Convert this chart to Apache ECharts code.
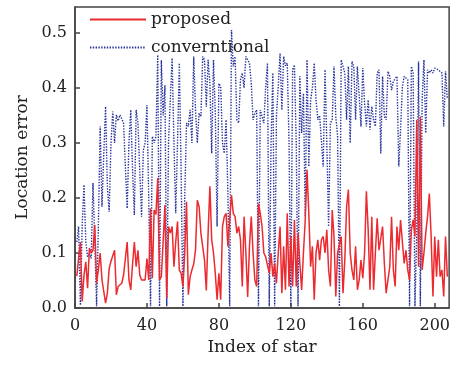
<!DOCTYPE html>
<html>
<head>
<meta charset="utf-8">
<script src="https://cdn.jsdelivr.net/npm/echarts@6/dist/echarts.min.js"></script>
<style>
  html, body { margin: 0; padding: 0; background: #fff; }
  #chart { width: 453px; height: 365px; }
</style>
</head>
<body>
<div id="chart"></div>
<script>
// location error per star
const proposed = [
  0.058, 0.09, 0.12, 0.012, 0.06, 0.084, 0.036, 0.109, 0.10, 0.105,
  0.151, 0.045, 0.07, 0.10, 0.051, 0.03, 0.009, 0.027, 0.072, 0.085,
  0.087, 0.105, 0.024, 0.039, 0.039, 0.045, 0.06, 0.057, 0.12, 0.051,
  0.033, 0.08, 0.12, 0.075, 0.105, 0.06, 0.051, 0.051, 0.051, 0.09,
  0.051, 0.181, 0.054, 0.178, 0.17, 0.236, 0.051, 0.057, 0.12, 0.187,
  0.018, 0.148, 0.136, 0.148, 0.075, 0.12, 0.157, 0.069, 0.063, 0.039,
  0.10, 0.193, 0.024, 0.057, 0.069, 0.08, 0.105, 0.196, 0.184, 0.136,
  0.136, 0.087, 0.032, 0.136, 0.221, 0.124, 0.10, 0.063, 0.015, 0.063,
  0.015, 0.148, 0.166, 0.172, 0.112, 0.16, 0.205, 0.172, 0.166, 0.136,
  0.148, 0.124, 0.039, 0.166, 0.10, 0.02, 0.112, 0.166, 0.10, 0.051,
  0.039, 0.19, 0.172, 0.148, 0.10, 0.093, 0.093, 0.063, 0.10, 0.057,
  0.081, 0.045, 0.10, 0.148, 0.027, 0.112, 0.033, 0.172, 0.039, 0.13,
  0.039, 0.16, 0.039, 0.136, 0.081, 0.033, 0.10, 0.16, 0.251, 0.172,
  0.075, 0.112, 0.015, 0.10, 0.124, 0.087, 0.124, 0.13, 0.10, 0.142,
  0.069, 0.039, 0.178, 0.13, 0.021, 0.10, 0.10, 0.13, 0.027, 0.087,
  0.184, 0.215, 0.10, 0.069, 0.051,
  0.112, 0.033, 0.051, 0.087, 0.054, 0.10, 0.212, 0.142, 0.033, 0.166,
  0.033, 0.10, 0.163, 0.105, 0.105, 0.148, 0.081, 0.027, 0.051, 0.075,
  0.166, 0.069, 0.039, 0.148, 0.105, 0.16, 0.16, 0.081, 0.105, 0.069,
  0.051, 0.142, 0.16, 0.13, 0.342, 0.075, 0.348, 0.069, 0.10, 0.136,
  0.166, 0.208, 0.13, 0.021, 0.13, 0.057, 0.124, 0.057, 0.069, 0.021, 0.13, 0.057
];
const conventional = [
  0.12, 0.148, 0.005, 0.15, 0.224, 0.12, 0.093, 0.10, 0.09, 0.227,
  0.12, 0.003, 0.15, 0.33, 0.184, 0.28, 0.366, 0.22, 0.175, 0.30,
  0.357, 0.30, 0.351, 0.34, 0.351, 0.351, 0.336, 0.257, 0.181, 0.30,
  0.36, 0.25, 0.169, 0.36, 0.336, 0.25, 0.166, 0.287, 0.30, 0.369,
  0.20, 0.003, 0.312, 0.30, 0.312, 0.46, 0.003, 0.45, 0.35, 0.405,
  0.003, 0.30, 0.38, 0.454, 0.30, 0.172, 0.30, 0.445, 0.25, 0.003,
  0.20, 0.336, 0.33, 0.36, 0.30, 0.457, 0.36, 0.30, 0.354, 0.348,
  0.457, 0.451, 0.366, 0.451, 0.408, 0.281, 0.451, 0.354, 0.148, 0.408,
  0.402, 0.30, 0.281, 0.342, 0.209, 0.003, 0.505, 0.439, 0.457, 0.342,
  0.336, 0.415, 0.427, 0.40, 0.457, 0.454, 0.445, 0.408, 0.342, 0.354,
  0.36, 0.003, 0.36, 0.348, 0.336, 0.40, 0.445, 0.003, 0.30, 0.427,
  0.003, 0.35, 0.402, 0.463, 0.36, 0.457, 0.44, 0.445, 0.30, 0.003,
  0.433, 0.442, 0.30, 0.003, 0.421, 0.318, 0.39, 0.166, 0.451, 0.257,
  0.378, 0.40, 0.445, 0.378, 0.342, 0.35, 0.348, 0.257, 0.433, 0.30,
  0.148, 0.336, 0.342, 0.439, 0.348, 0.312, 0.003, 0.451, 0.439, 0.427,
  0.342, 0.439, 0.30, 0.448, 0.439,
  0.342, 0.439, 0.385, 0.33, 0.436, 0.372, 0.33, 0.378, 0.324, 0.366,
  0.342, 0.33, 0.427, 0.433, 0.281, 0.421, 0.348, 0.342, 0.43, 0.421,
  0.396, 0.412, 0.415, 0.421, 0.257, 0.324, 0.402, 0.421, 0.424, 0.415,
  0.003, 0.439, 0.427, 0.003, 0.136, 0.448, 0.003, 0.378, 0.451, 0.318,
  0.433, 0.427, 0.433, 0.427, 0.436, 0.439, 0.433, 0.433, 0.427, 0.33, 0.43, 0.38
];
const xTicks = [0, 40, 80, 120, 160, 200];
const yTicks = [0, 0.1, 0.2, 0.3, 0.4, 0.5];
const names = ["proposed", "converntional"];

const font = "DejaVu Serif";
const axisColor = "#444";

const toPairs = arr => arr.map((v, i) => [i + 1, v]);

const chart = echarts.init(document.getElementById("chart"));
chart.setOption({
  animation: false,
  backgroundColor: "#fff",
  grid: {
    left: 75, right: 2, top: 7, bottom: 57,
    show: true, borderColor: axisColor, borderWidth: 1.5
  },
  legend: {
    orient: "vertical",
    left: 84, top: 6,
    itemWidth: 56, itemHeight: 14, itemGap: 11,
    data: names,
    itemStyle: { opacity: 0, borderWidth: 0 },
    textStyle: { fontFamily: font, fontSize: 17, color: "#222" }
  },
  xAxis: {
    type: "value",
    min: 0, max: 208,
    name: "Index of star",
    nameLocation: "middle",
    nameGap: 30,
    nameTextStyle: { fontFamily: font, fontSize: 17, color: "#222" },
    axisLine: { show: true, lineStyle: { color: axisColor, width: 1.5 } },
    axisTick: { show: true, inside: true, length: 5, customValues: xTicks, lineStyle: { color: axisColor, width: 1.5 } },
    axisLabel: { customValues: xTicks, margin: 10, fontFamily: font, fontSize: 16, color: "#222" },
    splitLine: { show: false }
  },
  yAxis: {
    type: "value",
    min: 0, max: 0.547,
    name: "Location error",
    nameLocation: "middle",
    nameGap: 42,
    nameTextStyle: { fontFamily: font, fontSize: 17, color: "#222" },
    axisLine: { show: true, lineStyle: { color: axisColor, width: 1.5 } },
    axisTick: { show: true, inside: true, length: 5, customValues: yTicks, lineStyle: { color: axisColor, width: 1.5 } },
    axisLabel: {
      customValues: yTicks, margin: 8, fontFamily: font, fontSize: 16, color: "#222",
      formatter: v => v.toFixed(1)
    },
    splitLine: { show: false }
  },
  series: [
    {
      name: names[0],
      type: "line",
      data: toPairs(proposed),
      symbol: "none",
      z: 3,
      lineStyle: { color: "#ec2a2f", width: 1.5 },
      itemStyle: { color: "#ec2a2f" }
    },
    {
      name: names[1],
      type: "line",
      data: toPairs(conventional),
      symbol: "none",
      z: 2,
      lineStyle: { color: "#27339a", width: 1.4, type: [1.4, 1.4] },
      itemStyle: { color: "#27339a" }
    }
  ]
});
</script>
</body>
</html>
